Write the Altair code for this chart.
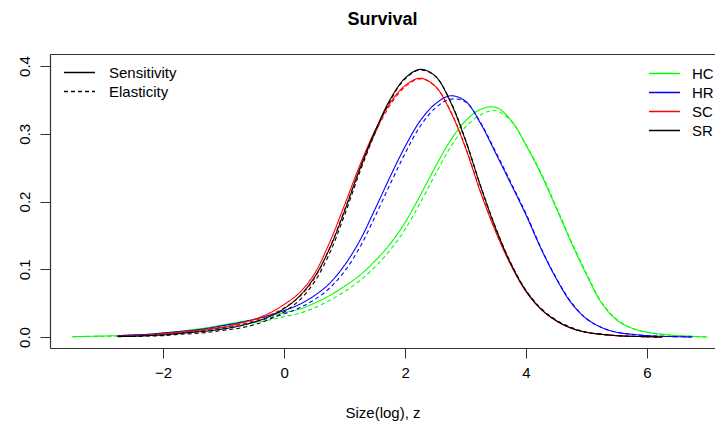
import altair as alt
import pandas as pd

# x grid (log size z)
z = [-3.5, -3.25, -3.0, -2.75, -2.5, -2.25, -2.0, -1.75, -1.5, -1.25,
     -1.0, -0.75, -0.5, -0.25, 0.0, 0.25, 0.5, 0.75, 1.0, 1.25,
     1.5, 1.75, 2.0, 2.25, 2.5, 2.75, 3.0, 3.25, 3.5, 3.75,
     4.0, 4.25, 4.5, 4.75, 5.0, 5.25, 5.5, 5.75, 6.0, 6.25,
     6.5, 6.75, 7.0]

hc_sens = [0.0005, 0.001, 0.0015, 0.002, 0.003, 0.004, 0.006, 0.008, 0.011, 0.014,
           0.018, 0.022, 0.026, 0.031, 0.036, 0.041, 0.050, 0.061, 0.075, 0.091,
           0.112, 0.137, 0.169, 0.209, 0.251, 0.290, 0.319, 0.336, 0.339, 0.320,
           0.283, 0.240, 0.190, 0.139, 0.092, 0.050, 0.025, 0.013, 0.007, 0.004,
           0.002, 0.001, 0.0]
hc_elas = [0.0003, 0.0007, 0.001, 0.0015, 0.002, 0.003, 0.004, 0.006, 0.008, 0.011,
           0.014, 0.017, 0.021, 0.025, 0.030, 0.035, 0.043, 0.054, 0.067, 0.083,
           0.103, 0.128, 0.159, 0.198, 0.240, 0.280, 0.310, 0.328, 0.334, 0.319,
           0.284, 0.242, 0.192, 0.141, 0.094, 0.051, 0.026, 0.013, 0.007, 0.004,
           0.002, 0.001, 0.0]
hr_sens = [None, None, None, 0.002, 0.003, 0.004, 0.006, 0.008, 0.010, 0.013,
           0.017, 0.021, 0.026, 0.032, 0.039, 0.048, 0.061, 0.079, 0.106, 0.142,
           0.188, 0.236, 0.281, 0.319, 0.344, 0.356, 0.348, 0.315, 0.271, 0.226,
           0.180, 0.130, 0.086, 0.050, 0.027, 0.014, 0.007, 0.004, 0.002, 0.001,
           0.0005, 0.0, None]
hr_elas = [None, None, None, 0.001, 0.002, 0.003, 0.004, 0.006, 0.008, 0.011,
           0.014, 0.018, 0.022, 0.028, 0.034, 0.043, 0.055, 0.072, 0.097, 0.132,
           0.177, 0.225, 0.271, 0.311, 0.338, 0.351, 0.347, 0.316, 0.273, 0.228,
           0.182, 0.131, 0.087, 0.051, 0.027, 0.014, 0.007, 0.004, 0.002, 0.001,
           0.0005, 0.0, None]
sc_sens = [None, None, None, 0.001, 0.002, 0.003, 0.005, 0.007, 0.009, 0.012,
           0.015, 0.020, 0.026, 0.035, 0.048, 0.065, 0.093, 0.139, 0.195, 0.253,
           0.304, 0.345, 0.371, 0.382, 0.370, 0.333, 0.279, 0.213, 0.155, 0.106,
           0.067, 0.041, 0.024, 0.013, 0.007, 0.004, 0.002, 0.001, 0.0005, 0.0,
           None, None, None]
sc_elas = [None, None, None, 0.001, 0.001, 0.002, 0.004, 0.006, 0.008, 0.010,
           0.013, 0.018, 0.024, 0.032, 0.043, 0.059, 0.086, 0.131, 0.188, 0.247,
           0.300, 0.342, 0.369, 0.381, 0.370, 0.334, 0.280, 0.214, 0.156, 0.107,
           0.068, 0.041, 0.024, 0.013, 0.007, 0.004, 0.002, 0.001, 0.0005, 0.0,
           None, None, None]
sr_sens = [None, None, None, 0.001, 0.001, 0.002, 0.003, 0.005, 0.007, 0.009,
           0.012, 0.016, 0.022, 0.030, 0.042, 0.060, 0.088, 0.130, 0.186, 0.248,
           0.303, 0.350, 0.382, 0.395, 0.385, 0.347, 0.290, 0.222, 0.160, 0.108,
           0.068, 0.041, 0.024, 0.013, 0.007, 0.004, 0.002, 0.001, 0.0005, 0.0,
           None, None, None]
sr_elas = [None, None, None, 0.0005, 0.001, 0.0015, 0.002, 0.004, 0.005, 0.007,
           0.010, 0.013, 0.018, 0.026, 0.037, 0.054, 0.081, 0.123, 0.180, 0.243,
           0.300, 0.348, 0.381, 0.394, 0.385, 0.348, 0.291, 0.223, 0.161, 0.109,
           0.069, 0.042, 0.025, 0.014, 0.007, 0.004, 0.002, 0.001, 0.0005, 0.0,
           None, None, None]

species = ["HC", "HR", "SC", "SR"]
colors = ["#00FF00", "#0000FF", "#FF0000", "#000000"]
measures = ["Sensitivity", "Elasticity"]
x_ticks = [-2, 0, 2, 4, 6]
y_ticks = [0.0, 0.1, 0.2, 0.3, 0.4]

series = [
    ("HC", hc_sens, hc_elas),
    ("HR", hr_sens, hr_elas),
    ("SC", sc_sens, sc_elas),
    ("SR", sr_sens, sr_elas),
]
rows = []
for k, (sp, sens, elas) in enumerate(series):
    for j, (m, vals) in enumerate((("Sensitivity", sens), ("Elasticity", elas))):
        for zi, v in zip(z, vals):
            if v is not None:
                rows.append({"z": zi, "value": v, "species": sp, "measure": m,
                             "order": k * 2 + j})
df = pd.DataFrame(rows)

FONT = "Liberation Sans"
x_scale = alt.Scale(domain=[-3.87, 7.124], nice=False, zero=False)
y_scale = alt.Scale(domain=[-0.0162, 0.4177], nice=False, zero=False)

lines = alt.Chart(df).mark_line(strokeWidth=1.1, interpolate="catmull-rom", clip=True).encode(
    x=alt.X("z:Q", scale=x_scale,
            axis=alt.Axis(values=x_ticks, title="Size(log), z", labelPadding=7,
                          titlePadding=25, titleFontWeight="normal", titleFontSize=15,
                          titleFont=FONT, titleColor="black")),
    y=alt.Y("value:Q", scale=y_scale,
            axis=alt.Axis(values=y_ticks, format=".1f", title=None, labelAngle=-90,
                          labelAlign="center", labelBaseline="alphabetic",
                          labelPadding=11)),
    color=alt.Color("species:N", scale=alt.Scale(domain=species, range=colors),
                    legend=alt.Legend(title=None, orient="none", legendX=598, legendY=10,
                                      symbolType="stroke", symbolSize=961,
                                      symbolStrokeWidth=1.3, labelOffset=11,
                                      clipHeight=19, rowPadding=0, padding=0,
                                      labelFontSize=15, labelFont=FONT,
                                      labelColor="black")),
    strokeDash=alt.StrokeDash("measure:N",
                              scale=alt.Scale(domain=measures, range=[[1, 0], [4, 3]]),
                              legend=alt.Legend(title=None, orient="none", legendX=13,
                                                legendY=9, symbolType="stroke",
                                                symbolSize=961, symbolStrokeColor="black",
                                                symbolStrokeWidth=1.3, labelOffset=13,
                                                clipHeight=19, rowPadding=0, padding=0,
                                                labelFontSize=15, labelFont=FONT,
                                                labelColor="black")),
    order="order:Q",
)

top = alt.Chart(df).mark_line(opacity=0).encode(
    x=alt.X("z:Q", scale=x_scale,
            axis=alt.Axis(orient="top", labels=False, ticks=False, title=None)),
    y=alt.Y("value:Q", scale=y_scale, axis=None),
)

chart = alt.layer(lines, top).resolve_axis(x="independent", y="independent").properties(
    width=665,
    height=294,
    autosize=alt.AutoSizeParams(type="none"),
    padding={"left": 42, "top": 46, "right": 0, "bottom": 76},
    title=alt.TitleParams("Survival", fontSize=18, fontWeight="bold", font=FONT,
                          anchor="middle", offset=25, color="black"),
).configure_view(stroke=None).configure_axis(
    domainColor="#333333", tickColor="#333333", labelColor="black",
    labelFont=FONT, labelFontSize=15, tickSize=10, grid=False, domainWidth=1.2,
)

chart.save("out.html", embed_options={"renderer": "svg", "actions": False})
